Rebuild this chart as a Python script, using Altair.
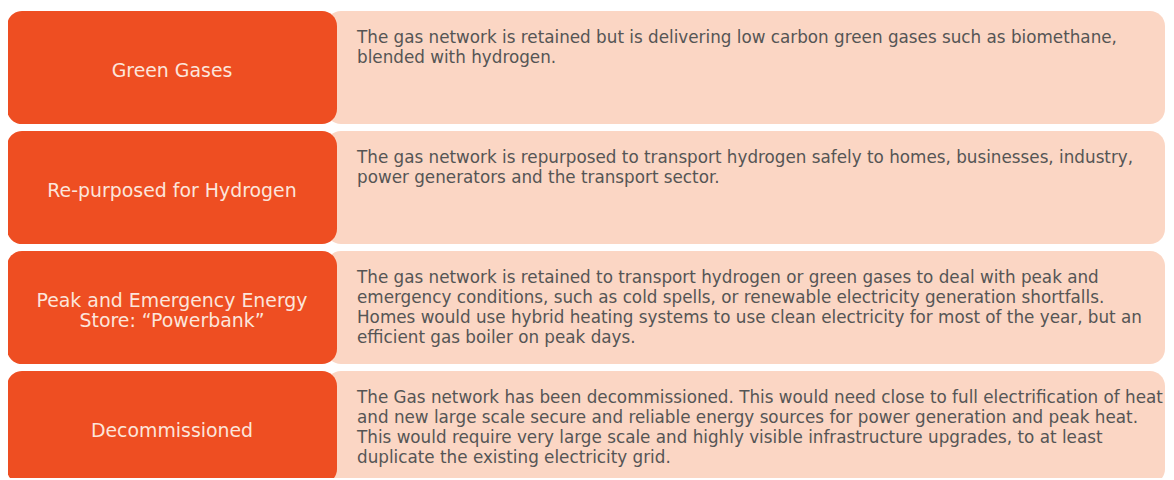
import altair as alt
import pandas as pd

# ---- content ----
titles = [
    "Green Gases",
    "Re-purposed for Hydrogen",
    "Peak and Emergency Energy\nStore: \u201cPowerbank\u201d",
    "Decommissioned",
]
descriptions = [
    "The gas network is retained but is delivering low carbon green gases such as biomethane,\n"
    "blended with hydrogen.",
    "The gas network is repurposed to transport hydrogen safely to homes, businesses, industry,\n"
    "power generators and the transport sector.",
    "The gas network is retained to transport hydrogen or green gases to deal with peak and\n"
    "emergency conditions, such as cold spells, or renewable electricity generation shortfalls.\n"
    "Homes would use hybrid heating systems to use clean electricity for most of the year, but an\n"
    "efficient gas boiler on peak days.",
    "The Gas network has been decommissioned. This would need close to full electrification of heat\n"
    "and new large scale secure and reliable energy sources for power generation and peak heat.\n"
    "This would require very large scale and highly visible infrastructure upgrades, to at least\n"
    "duplicate the existing electricity grid.",
]

# ---- layout (page pixel units, mapped through scales) ----
W, H = 1158, 470
ORIGIN = 8
ROW_TOP0, ROW_STEP, BOX_H = 11, 120, 113
LABEL_X0, LABEL_X1 = 7, 337
DESC_X0, DESC_X1 = 326, 1165
TEXT_X = 357
FIRST_BASELINE = 31.5
TITLE_LH = 20

rows = []
for i, (t, d) in enumerate(zip(titles, descriptions)):
    top = ROW_TOP0 + i * ROW_STEP
    n_lines = len(t.split("\n"))
    rows.append({
        "row": i, "title": t, "desc": d,
        "top": top, "bottom": top + BOX_H,
        "mid": top + BOX_H / 2 + 3 - (n_lines - 1) * TITLE_LH / 2,
        "lx0": LABEL_X0, "lx1": LABEL_X1, "lxc": (LABEL_X0 + LABEL_X1) / 2,
        "dx0": DESC_X0, "dx1": DESC_X1, "tx": TEXT_X,
        "ty": top + FIRST_BASELINE,
    })
df = pd.DataFrame(rows)

xs = alt.Scale(domain=[ORIGIN, ORIGIN + W], nice=False, zero=False)
ys = alt.Scale(domain=[ORIGIN, ORIGIN + H], nice=False, zero=False, reverse=True)

base = alt.Chart(df)

desc_box = base.mark_rect(color="#FBD6C4", cornerRadius=15, clip=True).encode(
    x=alt.X("dx0:Q", scale=xs, axis=None), x2="dx1:Q",
    y=alt.Y("top:Q", scale=ys, axis=None), y2="bottom:Q",
)
label_box = base.mark_rect(color="#EE4E22", cornerRadius=15, clip=True).encode(
    x=alt.X("lx0:Q", scale=xs, axis=None), x2="lx1:Q",
    y=alt.Y("top:Q", scale=ys, axis=None), y2="bottom:Q",
)
label_text = base.mark_text(
    align="center", baseline="middle", font="DejaVu Sans", fontSize=18.9,
    color="#FCE5DB", lineBreak="\n", lineHeight=TITLE_LH,
).encode(
    x=alt.X("lxc:Q", scale=xs, axis=None),
    y=alt.Y("mid:Q", scale=ys, axis=None),
    text="title:N",
)
desc_text = base.mark_text(
    align="left", baseline="alphabetic", font="DejaVu Sans", fontSize=16.8,
    color="#555555", lineBreak="\n", lineHeight=20,
).encode(
    x=alt.X("tx:Q", scale=xs, axis=None),
    y=alt.Y("ty:Q", scale=ys, axis=None),
    text="desc:N",
)

chart = (
    alt.layer(desc_box, label_box, label_text, desc_text)
    .properties(width=W, height=H, padding=0,
                autosize=alt.AutoSizeParams(type="none"), background="white")
    .configure_view(stroke=None)
)

chart.save("out.html", embed_options={"renderer": "svg", "actions": False})
